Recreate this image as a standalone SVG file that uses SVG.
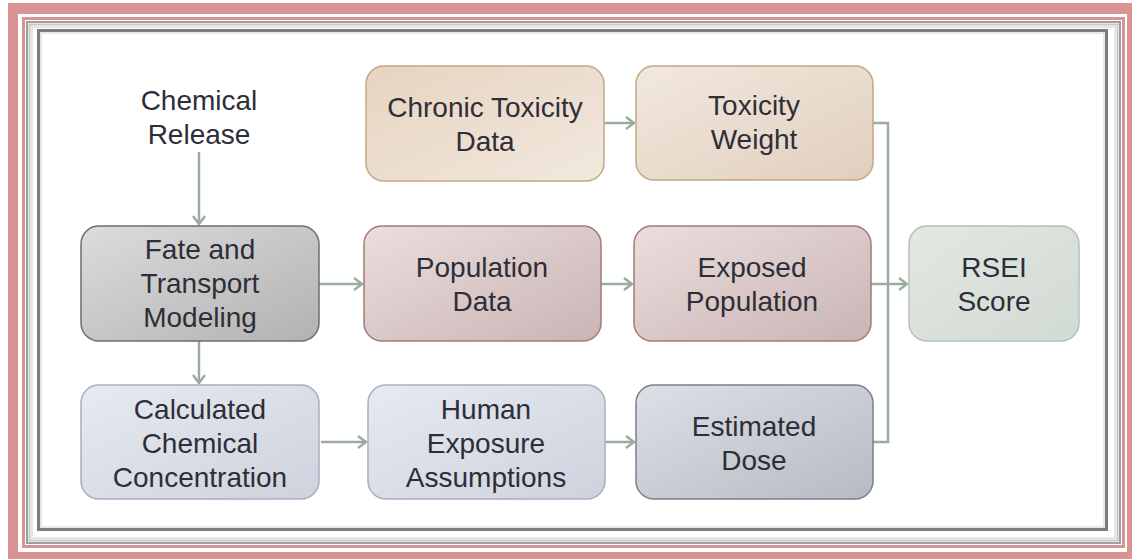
<svg xmlns="http://www.w3.org/2000/svg" width="1132" height="559" viewBox="0 0 1132 559">
<defs>
<style>
.t{font-family:"Liberation Sans",Arial,sans-serif;font-size:28px;fill:#2e2e38;text-anchor:middle}
.c{fill:none;stroke:#9aaca0;stroke-width:2.5}
</style>
<marker id="ah" markerWidth="12" markerHeight="14" refX="10" refY="7" orient="auto" markerUnits="userSpaceOnUse">
<path d="M2,1 L10,7 L2,13" fill="none" stroke="#9aaca0" stroke-width="2.5"/>
</marker>
<linearGradient id="gBeige" x1="0" y1="0" x2="1" y2="1"><stop offset="0" stop-color="#e6d4c0"/><stop offset="1" stop-color="#f2e8de"/></linearGradient>
<linearGradient id="gBeige2" x1="0" y1="0" x2="1" y2="1"><stop offset="0" stop-color="#f2e8de"/><stop offset="1" stop-color="#e0cfbe"/></linearGradient>
<linearGradient id="gGray" x1="0" y1="0" x2="1" y2="1"><stop offset="0" stop-color="#dcdcdc"/><stop offset="1" stop-color="#b2b2b2"/></linearGradient>
<linearGradient id="gRose" x1="0" y1="0" x2="1" y2="1"><stop offset="0" stop-color="#ecdede"/><stop offset="1" stop-color="#c9b4b4"/></linearGradient>
<linearGradient id="gGreen" x1="0" y1="0" x2="1" y2="1"><stop offset="0" stop-color="#e2e8e2"/><stop offset="1" stop-color="#d2dad4"/></linearGradient>
<linearGradient id="gBlue" x1="0" y1="0" x2="1" y2="1"><stop offset="0" stop-color="#e6eaf2"/><stop offset="1" stop-color="#cdd2dc"/></linearGradient>
<linearGradient id="gSteel" x1="0" y1="0" x2="1" y2="1"><stop offset="0" stop-color="#dde0e6"/><stop offset="1" stop-color="#b6bac2"/></linearGradient>
</defs>

<g id="frame">
<rect x="0" y="0" width="1132" height="559" fill="#ffffff"/>
<rect x="8" y="3" width="1134" height="566" fill="#da9393"/>
<rect x="18" y="14" width="1109" height="538" fill="#ffffff"/>
<rect x="23.5" y="18.5" width="1100" height="528" fill="none" stroke="#da9393" stroke-width="3"/>
<rect x="27" y="22" width="1093" height="521" fill="none" stroke="#9e9e9e" stroke-width="2"/>
<rect x="29.5" y="24.5" width="1088" height="516" fill="none" stroke="#c8c8c8" stroke-width="2"/>
<rect x="32" y="27" width="1083" height="511" fill="none" stroke="#e6e6e6" stroke-width="2"/>
<rect x="38.5" y="30.5" width="1068" height="499" fill="#ffffff" stroke="#7c7c7c" stroke-width="3"/>
<rect x="41" y="33" width="1063" height="494" fill="none" stroke="#d0d0d0" stroke-width="1"/>
</g>

<g id="connectors">
<line class="c" x1="199" y1="152" x2="199" y2="224" marker-end="url(#ah)"/>
<line class="c" x1="199" y1="341" x2="199" y2="383" marker-end="url(#ah)"/>
<line class="c" x1="319" y1="284" x2="362" y2="284" marker-end="url(#ah)"/>
<line class="c" x1="601" y1="284" x2="632" y2="284" marker-end="url(#ah)"/>
<line class="c" x1="604" y1="123" x2="634" y2="123" marker-end="url(#ah)"/>
<line class="c" x1="321" y1="442" x2="366" y2="442" marker-end="url(#ah)"/>
<line class="c" x1="605" y1="442" x2="634" y2="442" marker-end="url(#ah)"/>
<polyline class="c" points="873,123 888,123 888,442 873,442"/>
<line class="c" x1="871" y1="284" x2="907" y2="284" marker-end="url(#ah)"/>
</g>

<g id="chemical_release">
<text class="t" x="199" y="110">Chemical</text>
<text class="t" x="199" y="144">Release</text>
</g>

<g id="chronic_toxicity">
<rect x="366" y="66" width="238" height="115" rx="18" fill="url(#gBeige)" stroke="#c4a684" stroke-width="1.5"/>
<text class="t" x="485" y="117">Chronic Toxicity</text>
<text class="t" x="485" y="151">Data</text>
</g>

<g id="toxicity_weight">
<rect x="636" y="66" width="237" height="114" rx="18" fill="url(#gBeige2)" stroke="#c4a684" stroke-width="1.5"/>
<text class="t" x="754" y="115">Toxicity</text>
<text class="t" x="754" y="149">Weight</text>
</g>

<g id="fate_transport">
<rect x="81" y="226" width="238" height="115" rx="18" fill="url(#gGray)" stroke="#6e6e6e" stroke-width="1.5"/>
<text class="t" x="200" y="259">Fate and</text>
<text class="t" x="200" y="293">Transport</text>
<text class="t" x="200" y="327">Modeling</text>
</g>

<g id="population_data">
<rect x="364" y="226" width="237" height="115" rx="18" fill="url(#gRose)" stroke="#a47a78" stroke-width="1.5"/>
<text class="t" x="482" y="277">Population</text>
<text class="t" x="482" y="311">Data</text>
</g>

<g id="exposed_population">
<rect x="634" y="226" width="237" height="115" rx="18" fill="url(#gRose)" stroke="#a47a78" stroke-width="1.5"/>
<text class="t" x="752" y="277">Exposed</text>
<text class="t" x="752" y="311">Population</text>
</g>

<g id="rsei_score">
<rect x="909" y="226" width="170" height="115" rx="18" fill="url(#gGreen)" stroke="#b4c2b8" stroke-width="1.5"/>
<text class="t" x="994" y="277">RSEI</text>
<text class="t" x="994" y="311">Score</text>
</g>

<g id="calculated_concentration">
<rect x="81" y="385" width="238" height="114" rx="18" fill="url(#gBlue)" stroke="#a6aec0" stroke-width="1.5"/>
<text class="t" x="200" y="419">Calculated</text>
<text class="t" x="200" y="453">Chemical</text>
<text class="t" x="200" y="487">Concentration</text>
</g>

<g id="human_exposure">
<rect x="368" y="385" width="237" height="114" rx="18" fill="url(#gBlue)" stroke="#a6aec0" stroke-width="1.5"/>
<text class="t" x="486" y="419">Human</text>
<text class="t" x="486" y="453">Exposure</text>
<text class="t" x="486" y="487">Assumptions</text>
</g>

<g id="estimated_dose">
<rect x="636" y="385" width="237" height="114" rx="18" fill="url(#gSteel)" stroke="#7a8089" stroke-width="1.5"/>
<text class="t" x="754" y="436">Estimated</text>
<text class="t" x="754" y="470">Dose</text>
</g>
</svg>
